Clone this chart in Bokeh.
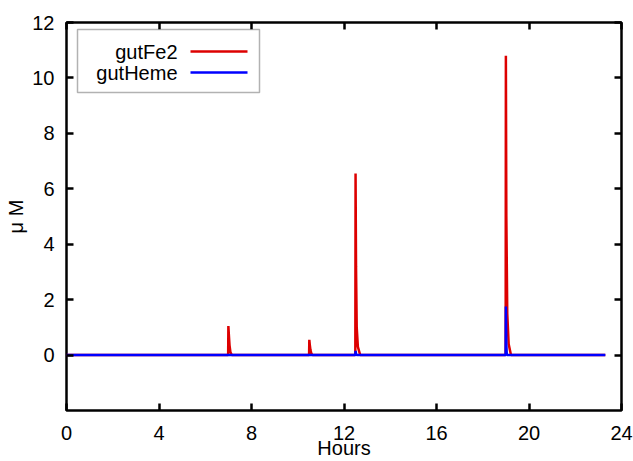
from bokeh.plotting import figure
from bokeh.models import (Range1d, LinearAxis, FixedTicker, CustomJSTickFormatter,
                          BoxAnnotation, Label)
from bokeh.embed import file_html
from bokeh.resources import INLINE

# ---- data ----
fe2_t = [0.0, 6.99, 7.0, 7.02, 7.05, 7.09, 7.15,
         10.49, 10.5, 10.52, 10.55, 10.59, 10.65,
         12.49, 12.5, 12.52, 12.55, 12.6, 12.7,
         18.99, 19.0, 19.02, 19.06, 19.12, 19.22, 23.3]
fe2_v = [0.0, 0.0, 1.05, 0.75, 0.35, 0.1, 0.0,
         0.0, 0.55, 0.38, 0.18, 0.05, 0.0,
         0.0, 6.55, 3.2, 1.0, 0.3, 0.0,
         0.0, 10.8, 5.0, 1.5, 0.4, 0.0, 0.0]
heme_t = [0.0, 12.49, 12.5, 12.52, 12.55, 18.99, 19.0, 19.02, 19.04, 23.3]
heme_v = [0.0, 0.0, 0.15, 0.05, 0.0, 0.0, 1.75, 0.4, 0.0, 0.0]

x_ticks = [0, 4, 8, 12, 16, 20, 24]
y_ticks = [0, 2, 4, 6, 8, 10, 12]
series_names = ["gutFe2", "gutHeme"]
series_colors = ["#dd0000", "#0000ff"]

FONT = "Liberation Sans"
FS = "20px"

p = figure(width=633, height=461, output_backend="svg", toolbar_location=None,
           x_range=Range1d(0, 24), y_range=Range1d(-2, 12))
p.min_border_left = 66
p.min_border_right = 12
p.min_border_top = 22
p.min_border_bottom = 51
p.grid.visible = False
p.outline_line_color = "black"
p.outline_line_width = 2.5
p.outline_line_alpha = 1
p.background_fill_color = "white"
p.border_fill_color = "white"

for ax, ticks in ((p.xaxis[0], x_ticks), (p.yaxis[0], y_ticks)):
    ax.ticker = FixedTicker(ticks=ticks)
    ax.axis_line_color = None
    ax.major_tick_in = 7
    ax.major_tick_out = 0
    ax.major_tick_line_width = 2.5
    ax.major_tick_line_color = "black"
    ax.minor_tick_line_color = None
    ax.major_label_text_font = FONT
    ax.major_label_text_font_size = FS
    ax.major_label_text_color = "black"
    ax.axis_label_text_font = FONT
    ax.axis_label_text_font_size = FS
    ax.axis_label_text_font_style = "normal"
    ax.axis_label_text_color = "black"

p.xaxis[0].axis_label = "Hours"
p.xaxis[0].major_label_standoff = 15
p.xaxis[0].axis_label_standoff = -6
p.yaxis[0].axis_label = "\u03bc M"
p.yaxis[0].major_label_standoff = 12
p.yaxis[0].axis_label_standoff = 2

# mirror ticks (gnuplot style)
for side, ticks in (("right", y_ticks), ("above", x_ticks)):
    ax = LinearAxis(ticker=FixedTicker(ticks=ticks),
                    formatter=CustomJSTickFormatter(code="return ''"))
    ax.axis_line_color = None
    ax.major_tick_in = 7
    ax.major_tick_out = 0
    ax.major_tick_line_width = 2.5
    ax.major_tick_line_color = "black"
    ax.minor_tick_line_color = None
    ax.major_label_standoff = 0
    p.add_layout(ax, side)

p.line(fe2_t, fe2_v, line_color=series_colors[0], line_width=2.5)
p.line(heme_t, heme_v, line_color=series_colors[1], line_width=2.5)

# legend (gnuplot style: text right-aligned, sample to the right)
p.add_layout(BoxAnnotation(left=11, right=193, bottom=318, top=381,
                           left_units="screen", right_units="screen",
                           bottom_units="screen", top_units="screen",
                           fill_color="white", fill_alpha=1,
                           line_color="black", line_width=1.5))
for i, (name, col) in enumerate(zip(series_names, series_colors)):
    yc = 359 - 21 * i
    p.add_layout(Label(x=111, y=yc, x_units="screen", y_units="screen", text=name,
                       text_align="right", text_baseline="middle",
                       text_font=FONT, text_font_size=FS, text_color="black"))
    p.add_layout(BoxAnnotation(left=124, right=181, bottom=yc - 1.2, top=yc + 1.2,
                               left_units="screen", right_units="screen",
                               bottom_units="screen", top_units="screen",
                               fill_color=col, fill_alpha=1, line_color=None))

open("out.html", "w").write(file_html(p, INLINE))
